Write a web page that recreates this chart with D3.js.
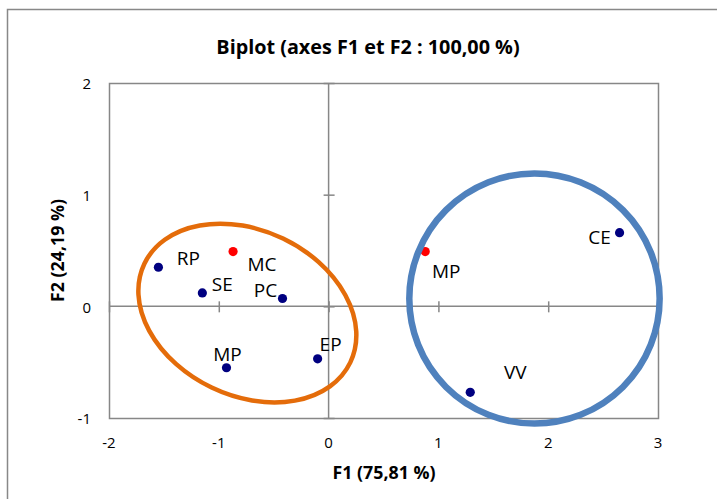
<!DOCTYPE html>
<html>
<head>
<meta charset="utf-8">
<script src="https://cdn.jsdelivr.net/npm/d3@7"></script>
<style>
  body { margin: 0; background: #fff; }
  svg { font-family: 'Open Sans', Lato, sans-serif; }
</style>
</head>
<body>
<svg id="chart" width="717" height="499"></svg>
<script>
const width = 717
const height = 499

// points of the biplot (F1, F2)
const labels = ['RP', 'MC', 'SE', 'PC', 'MP', 'EP', 'MP', 'CE', 'VV']
const f1 = [-1.55, -0.87, -1.15, -0.42, -0.93, -0.10, 0.88, 2.65, 1.29]
const f2 = [0.35, 0.49, 0.12, 0.07, -0.55, -0.47, 0.49, 0.66, -0.77]
const kinds = ['obs', 'var', 'obs', 'obs', 'obs', 'obs', 'var', 'obs', 'obs']
// where each label sits relative to its dot (px)
const labelDx = [30, 29, 20, -17, 1, 13, 21, -20, 45]
const labelDy = [-9, 13, -9, -8, -13, -14, 20, 5, -20]

const xTicks = [-2, -1, 0, 1, 2, 3]
const yTicks = [-1, 0, 1, 2]

// groups drawn around the points: centre, semi-axes (F1 units), tilt
const groups = [
  {cx: -0.74, cy: -0.06, rx: 1.04, ry: 0.74, tilt: 25.6, color: '#E46C0A', sw: 4.5},
  {cx: 1.875, cy: 0.07, rx: 1.14, ry: 1.12, tilt: 0, color: '#4F81BD', sw: 6.5}
]

const margin = {top: 83, right: 59, bottom: 81, left: 109}

const x = d3.scaleLinear().domain([-2, 3]).range([margin.left, width - margin.right])
const y = d3.scaleLinear().domain([-1, 2]).range([height - margin.bottom, margin.top])

const svg = d3.select('#chart')

// outer chart frame (cut by the window on the right and bottom)
svg.append('rect')
  .attr('x', 7.5).attr('y', 9.5)
  .attr('width', 800).attr('height', 600)
  .attr('fill', 'none').attr('stroke', '#888').attr('stroke-width', 1.5)

svg.append('text')
  .attr('x', 368).attr('y', 47)
  .attr('dy', '0.35em')
  .attr('text-anchor', 'middle')
  .attr('font-weight', 'bold').attr('font-size', 19.8)
  .text('Biplot (axes F1 et F2 : 100,00 %)')

// plot area border
svg.append('rect')
  .attr('x', x(-2) + 0.5).attr('y', y(2) + 0.5)
  .attr('width', x(3) - x(-2)).attr('height', y(-1) - y(2))
  .attr('fill', 'none').attr('stroke', '#878787').attr('stroke-width', 1.5)

// zero axes with crossing ticks
const axisX = d3.axisBottom(x).tickValues(xTicks).tickSize(11).tickFormat('')
svg.append('g')
  .attr('transform', `translate(0,${y(0) - 5})`)
  .call(axisX)
  .call(g => g.select('.domain').remove())
  .call(g => g.selectAll('line').attr('stroke', '#878787').attr('stroke-width', 1.5))
svg.append('line')
  .attr('x1', x(-2)).attr('x2', x(3)).attr('y1', y(0)).attr('y2', y(0))
  .attr('stroke', '#878787').attr('stroke-width', 1.5)

const axisY = d3.axisLeft(y).tickValues(yTicks).tickSize(11).tickFormat('')
svg.append('g')
  .attr('transform', `translate(${x(0) + 6},0)`)
  .call(axisY)
  .call(g => g.select('.domain').remove())
  .call(g => g.selectAll('line').attr('stroke', '#878787').attr('stroke-width', 1.5))
svg.append('line')
  .attr('x1', x(0)).attr('x2', x(0)).attr('y1', y(-1)).attr('y2', y(2))
  .attr('stroke', '#878787').attr('stroke-width', 1.5)

// tick labels
svg.append('g')
  .selectAll('text')
  .data(xTicks)
  .join('text')
  .attr('x', d => x(d))
  .attr('y', height - margin.bottom + 25)
  .attr('dy', '0.35em')
  .attr('text-anchor', 'middle')
  .attr('font-size', 15)
  .text(d => d)

svg.append('g')
  .selectAll('text')
  .data(yTicks)
  .join('text')
  .attr('x', margin.left - 18)
  .attr('y', d => y(d) + 1)
  .attr('dy', '0.35em')
  .attr('text-anchor', 'end')
  .attr('font-size', 15)
  .text(d => d)

// axis titles
svg.append('text')
  .attr('x', 384).attr('y', 473)
  .attr('dy', '0.35em')
  .attr('text-anchor', 'middle')
  .attr('font-weight', 'bold').attr('font-size', 17.8)
  .text('F1 (75,81 %)')

svg.append('text')
  .attr('transform', `translate(58,${y(0.5)}) rotate(-90)`)
  .attr('dy', '0.35em')
  .attr('text-anchor', 'middle')
  .attr('font-weight', 'bold').attr('font-size', 17.8)
  .text('F2 (24,19 %)')

// points
const pts = labels.map((d, i) => ({label: d, f1: f1[i], f2: f2[i], kind: kinds[i], dx: labelDx[i], dy: labelDy[i]}))

svg.append('g')
  .selectAll('circle')
  .data(pts)
  .join('circle')
  .attr('cx', d => x(d.f1))
  .attr('cy', d => y(d.f2))
  .attr('r', 4.6)
  .attr('fill', d => d.kind === 'var' ? '#FF0000' : '#000080')

svg.append('g')
  .selectAll('text')
  .data(pts)
  .join('text')
  .attr('x', d => x(d.f1) + d.dx)
  .attr('y', d => y(d.f2) + d.dy)
  .attr('dy', '0.35em')
  .attr('text-anchor', 'middle')
  .attr('font-size', 19)
  .text(d => d.label)

// group outlines
svg.append('g')
  .selectAll('ellipse')
  .data(groups)
  .join('ellipse')
  .attr('transform', d => `translate(${x(d.cx)},${y(d.cy)}) rotate(${d.tilt})`)
  .attr('rx', d => x(d.cx + d.rx) - x(d.cx))
  .attr('ry', d => y(d.cy - d.ry) - y(d.cy))
  .attr('fill', 'none')
  .attr('stroke', d => d.color)
  .attr('stroke-width', d => d.sw)
</script>
</body>
</html>
